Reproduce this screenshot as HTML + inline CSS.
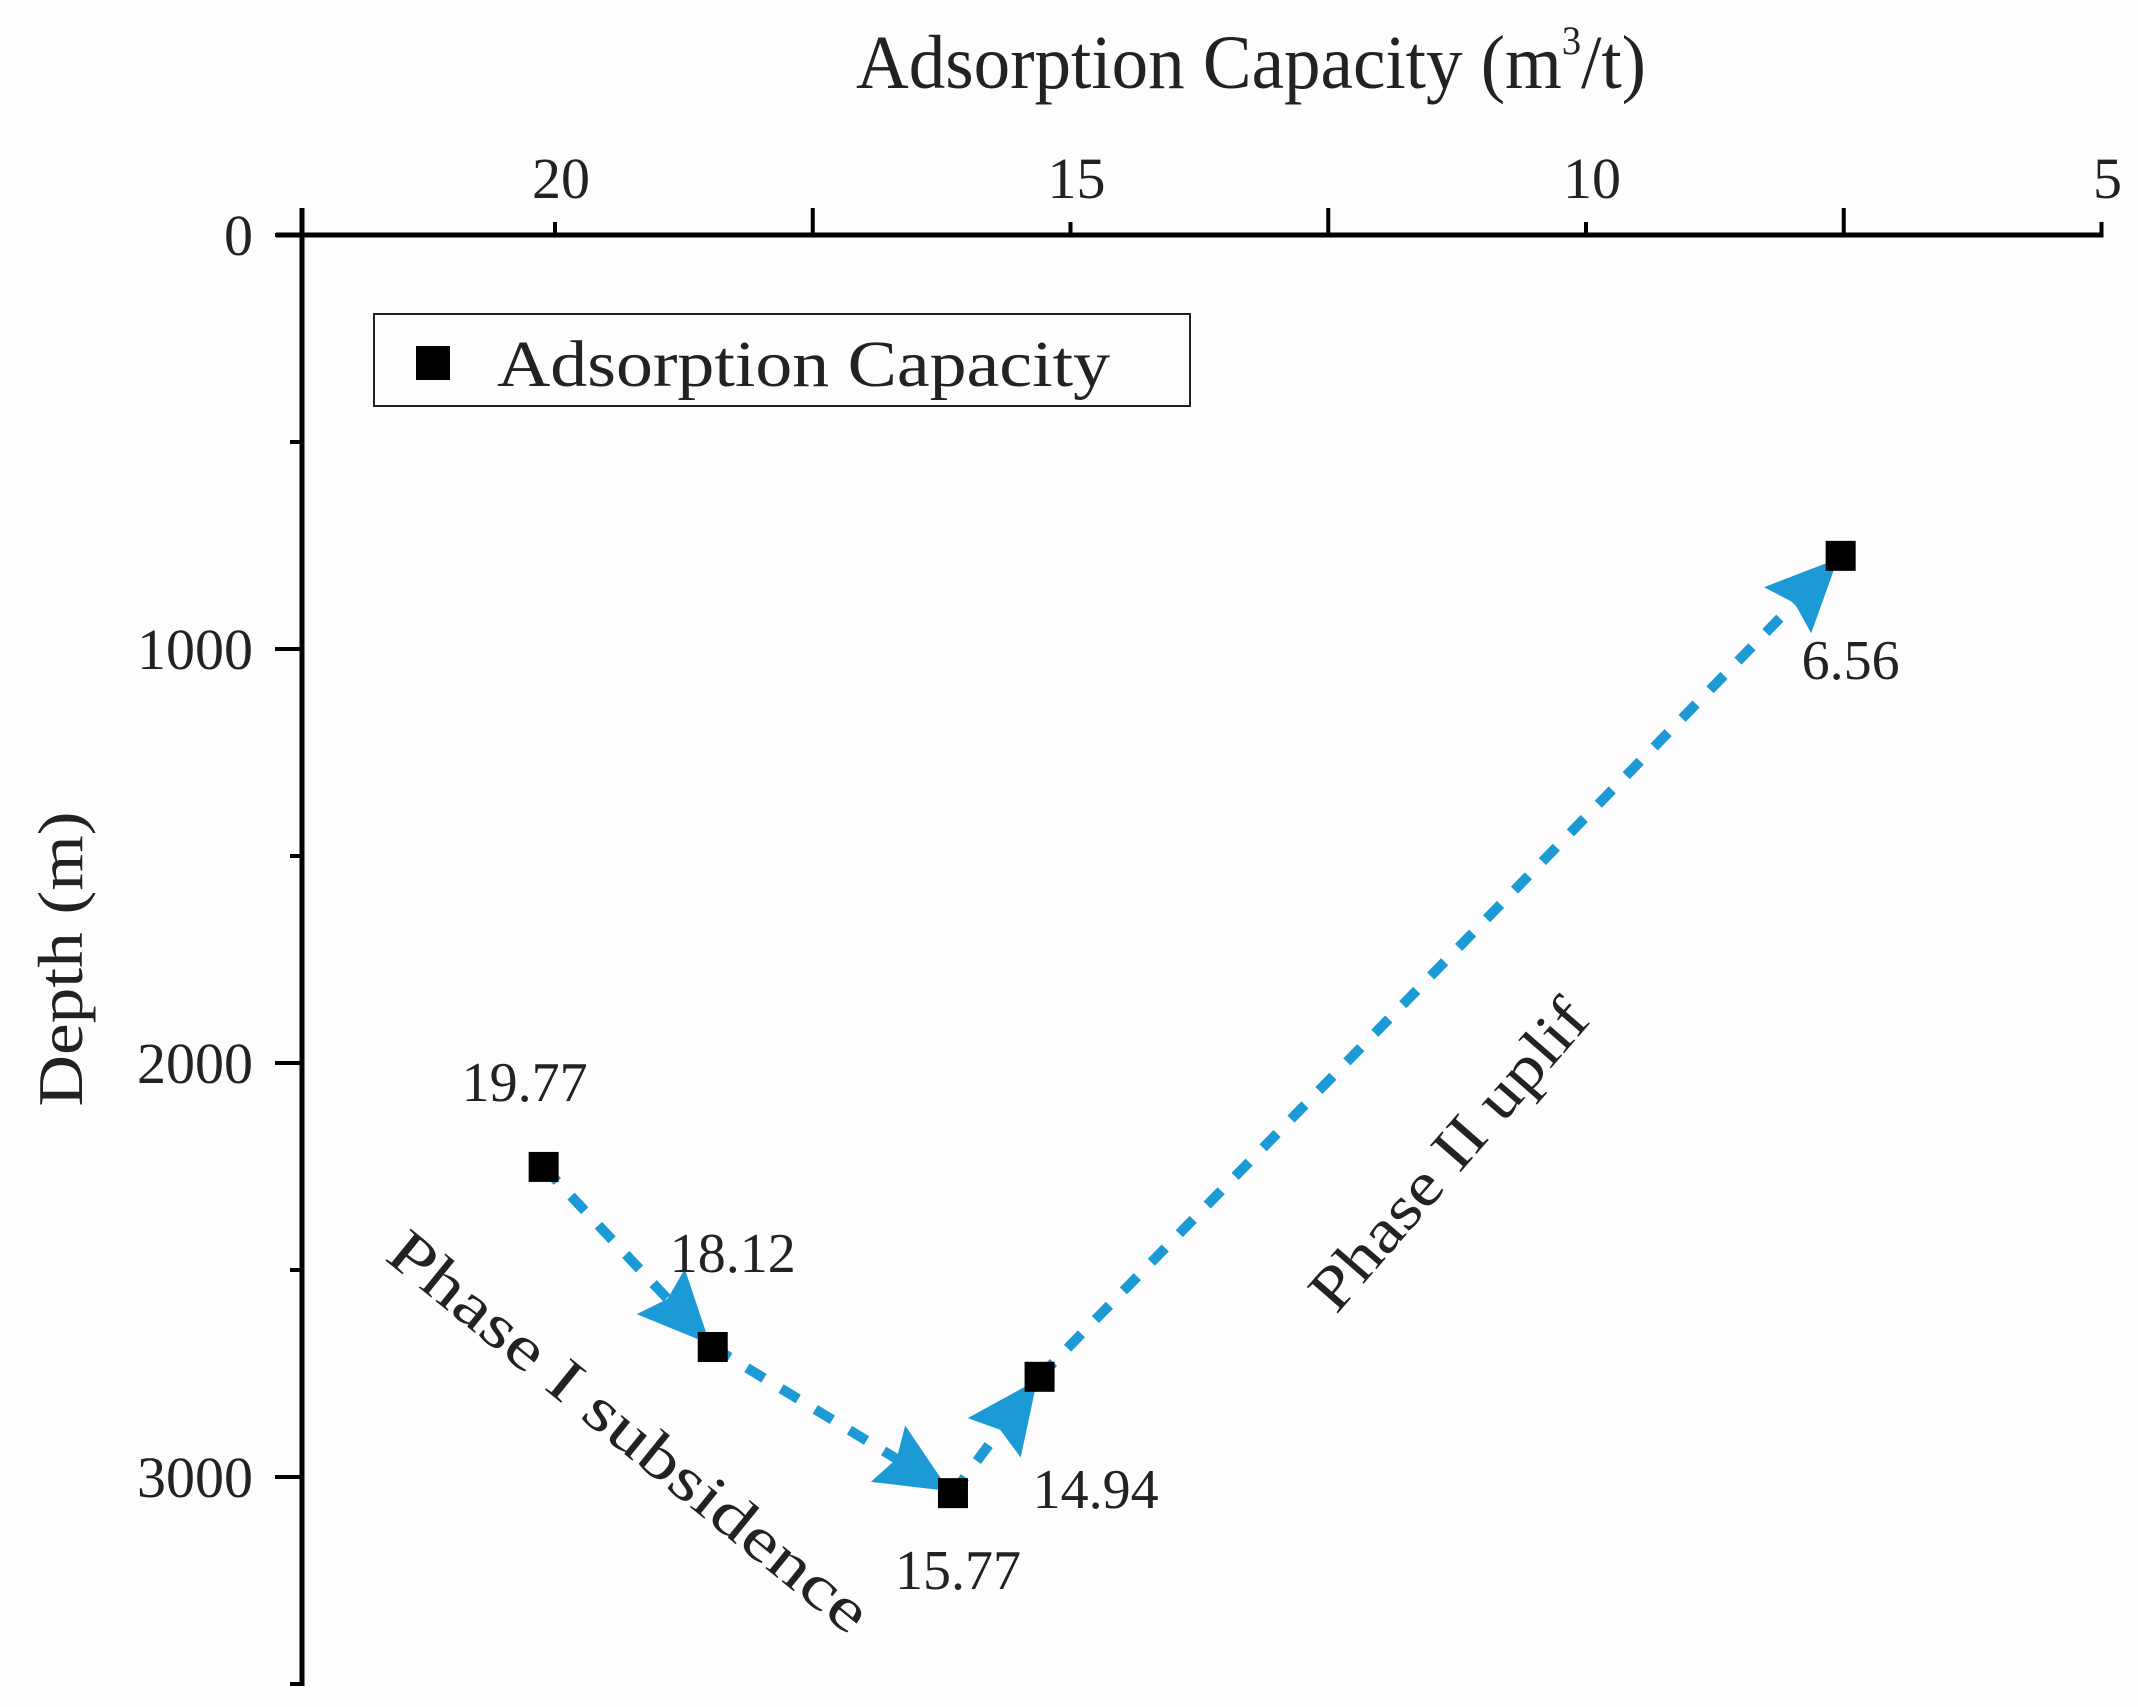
<!DOCTYPE html>
<html><head><meta charset="utf-8">
<style>
html,body{margin:0;padding:0;background:#fdfdfd;}
svg{display:block;font-family:"Liberation Serif",serif;}
</style></head>
<body>
<svg id="chart" width="2138" height="1707" viewBox="0 0 2138 1707" xmlns="http://www.w3.org/2000/svg">
<rect x="0" y="0" width="2138" height="1707" fill="#fdfdfd"/>
<g id="axes"></g>
<g id="marks"></g>
<text x="1251" y="88" font-size="76" text-anchor="middle" textLength="790" lengthAdjust="spacingAndGlyphs" fill="#222">Adsorption Capacity (m<tspan font-size="40" dy="-34">3</tspan><tspan dy="34">/t)</tspan></text>
<text transform="translate(82,959) rotate(-90)" font-size="64" text-anchor="middle" textLength="295" lengthAdjust="spacingAndGlyphs" fill="#222">Depth (m)</text>
<g>
<rect x="374" y="314" width="816" height="92" fill="none" stroke="#222" stroke-width="2"/>
<rect x="416" y="346" width="34" height="34" fill="#000"/>
<text x="497" y="386" font-size="66" textLength="613" lengthAdjust="spacingAndGlyphs" fill="#222">Adsorption Capacity</text>
</g>
<text transform="translate(629,1432) rotate(39)" font-size="62" text-anchor="middle" dominant-baseline="central" textLength="600" lengthAdjust="spacingAndGlyphs" fill="#222">Phase I subsidence</text>
<text transform="translate(1449,1155) rotate(-49)" font-size="62" text-anchor="middle" dominant-baseline="central" textLength="390" lengthAdjust="spacingAndGlyphs" fill="#222">Phase II  uplif</text>
</svg>
<script>
const capacity = [20.11, 18.47, 16.14, 15.30, 7.53];
const depth = [2251, 2686, 3039, 2758, 775];
const pointLabels = ["19.77", "18.12", "15.77", "14.94", "6.56"];
const xTicks = [20, 17.5, 15, 12.5, 10, 7.5, 5];
const xTickLabels = ["20", "", "15", "", "10", "", "5"];
const yTicks = [0, 500, 1000, 1500, 2000, 2500, 3000, 3500];
const yTickLabels = ["0", "", "1000", "", "2000", "", "3000", ""];

const NS = "http://www.w3.org/2000/svg";
const X0 = 555, XPU = 103.1;
function xs(v){ return X0 + (20 - v) * XPU; }
function ys(d){ return 235 + d * 0.414; }
function el(tag, attrs, parent){ const e = document.createElementNS(NS, tag); for (const k in attrs) e.setAttribute(k, attrs[k]); parent.appendChild(e); return e; }

const axes = document.getElementById('axes');
const marks = document.getElementById('marks');
const axY = ys(0), axX = 302;
const xl = el('line', {x1: 276, y1: axY, x2: xs(5) + 2, y2: axY, stroke: '#000', 'stroke-width': 5}, axes);


const yl = el('line', {x1: axX, y1: 208, x2: axX, y2: ys(3500) + 2, stroke: '#000', 'stroke-width': 5}, axes);



xTicks.forEach((t, i) => {
  const len = xTickLabels[i] ? 13 : 27;
  const tk = el('line', {x1: xs(t), y1: axY, x2: xs(t), y2: axY - len, stroke: '#000', 'stroke-width': 4}, axes);
  
  
  if (xTickLabels[i]) {
    const tx = el('text', {x: xs(t) + 6, y: 198, 'font-size': 58, 'text-anchor': 'middle', fill: '#222'}, axes);
    tx.textContent = xTickLabels[i];
    
    
  }
});
yTicks.forEach((t, i) => {
  const len = yTickLabels[i] ? 27 : 12;
  const tk = el('line', {x1: axX, y1: ys(t), x2: axX - len, y2: ys(t), stroke: '#000', 'stroke-width': 4}, axes);
  
  
  if (yTickLabels[i]) {
    const tx = el('text', {x: 253, y: ys(t) + 20, 'font-size': 58, 'text-anchor': 'end', fill: '#222'}, axes);
    tx.textContent = yTickLabels[i];
    
    
  }
});

for (let i = 0; i < capacity.length - 1; i++) {
  const x1 = xs(capacity[i]), y1 = ys(depth[i]), x2 = xs(capacity[i+1]), y2 = ys(depth[i+1]);
  const dx = x2 - x1, dy = y2 - y1, L = Math.hypot(dx, dy), ux = dx / L, uy = dy / L;
  const ln = el('line', {x1: x1, y1: y1, x2: x2 - ux * 40, y2: y2 - uy * 40, stroke: '#1b9ad6', 'stroke-width': 10, 'stroke-dasharray': '20 20'}, marks);
  
  
  const tipx = x2 - ux * 4, tipy = y2 - uy * 4;
  const bx = tipx - ux * 72, by = tipy - uy * 72, nx = -uy, ny = ux;
  const nxp = tipx - ux * 62, nyp = tipy - uy * 62;
  const pts = [[tipx, tipy], [bx + nx * 33, by + ny * 33], [nxp, nyp], [bx - nx * 33, by - ny * 33]].map(p => p.join(',')).join(' ');
  const ah = el('polygon', {points: pts, fill: '#1b9ad6'}, marks);
  
  
}
const labelOffsets = [[-19, -66], [20, -75], [5, 96], [56, 131], [10, 123]];
capacity.forEach((c, i) => {
  const m = el('rect', {x: xs(c) - 15, y: ys(depth[i]) - 15, width: 30, height: 30, fill: '#000'}, marks);
  
  
  const t = el('text', {x: xs(c) + labelOffsets[i][0], y: ys(depth[i]) + labelOffsets[i][1], 'font-size': 56, 'text-anchor': 'middle', fill: '#222'}, marks);
  t.textContent = pointLabels[i];
  
  
});
</script>
</body></html>
